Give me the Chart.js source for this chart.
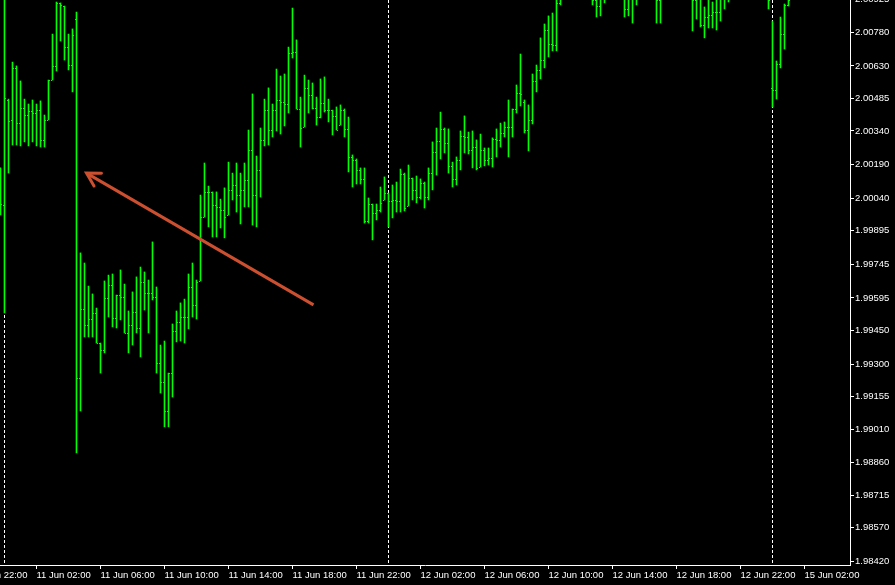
<!DOCTYPE html>
<html>
<head>
<meta charset="utf-8">
<script src="https://cdn.jsdelivr.net/npm/chart.js@4.4.1/dist/chart.umd.min.js"></script>
<style>
    html, body { margin: 0; padding: 0; background: #000; }
    canvas { display: block; }
</style>
</head>
<body>
<canvas id="priceChart" width="895" height="585"></canvas>
<script>
// M15 bars, bar index 0 = 11 Jun 00:00 (first visible bar is index -1)
var firstBar = -1;

var opens = [
    2.00143, 2.00010, 2.00478, 2.00389, 2.00621, 2.00375, 2.00442, 2.00411,
    2.00429, 2.00420, 2.00433, 2.00300, 2.00389, 2.00567, 2.00630, 2.00911,
    2.00897, 2.00714, 2.00634, 2.00839, 1.99238, 1.99546, 1.99474, 1.99501,
    1.99528, 1.99394, 1.99363, 1.99595, 1.99653, 1.99506, 1.99608, 1.99599,
    1.99439, 1.99474, 1.99532, 1.99461, 1.99666, 1.99617, 1.99617, 1.99599,
    1.99305, 1.99220, 1.99091, 1.99260, 1.99448, 1.99488, 1.99510, 1.99510,
    1.99644, 1.99564, 1.99671, 1.99956, 2.00068, 2.00068, 2.00010, 2.00001,
    1.99987, 1.99965, 2.00077, 2.00099, 2.00054, 2.00077, 2.00121, 2.00255,
    2.00054, 2.00166, 2.00300, 2.00433, 2.00344, 2.00433, 2.00478, 2.00469,
    2.00460, 2.00688, 2.00692, 2.00438, 2.00358, 2.00532, 2.00500, 2.00442,
    2.00402, 2.00465, 2.00433, 2.00433, 2.00407, 2.00366, 2.00433, 2.00349,
    2.00224, 2.00210, 2.00166, 2.00126, 1.99938, 2.00014, 1.99974, 1.99987,
    2.00032, 2.00063, 2.00028, 2.00032, 2.00028, 2.00148, 2.00005, 2.00130,
    2.00077, 2.00045, 2.00108, 2.00045, 2.00152, 2.00246, 2.00295, 2.00349,
    2.00286, 2.00184, 2.00126, 2.00210, 2.00317, 2.00313, 2.00255, 2.00268,
    2.00179, 2.00255, 2.00210, 2.00219, 2.00304, 2.00300, 2.00331, 2.00358,
    2.00358, 2.00438, 2.00509, 2.00470, 2.00344, 2.00389, 2.00563, 2.00612,
    2.00656, 2.00790, 2.00728, 2.00723, 2.00911, 2.00969, 2.01010, 2.01030,
    2.01000, 2.00990, 2.01040, 2.01020, 2.00980, 2.00924, 2.00897, 2.00946,
    2.00991, 2.01020, 2.01050, 2.01000, 2.00980, 2.00884, 2.00933, 2.00969,
    2.01000, 2.01050, 2.01070, 2.01020, 2.00970, 2.00924, 2.00950, 2.01010,
    2.01060, 2.01090, 2.01070, 2.01040, 2.01010, 2.00980, 2.00924, 2.00946,
    2.00812, 2.00848, 2.00857, 2.00870, 2.00870, 2.00946, 2.00969, 2.01036,
    2.01090, 2.01110, 2.01080, 2.01060, 2.01030, 2.01050, 2.01010, 2.00990,
    2.00970, 2.00532, 2.00523, 2.00639, 2.00772, 2.00902
];

var highs = [
    2.00175, 2.00946, 2.00482, 2.00647, 2.00630, 2.00563, 2.00482, 2.00460,
    2.00478, 2.00460, 2.00474, 2.00411, 2.00567, 2.00772, 2.00915, 2.00911,
    2.00897, 2.00772, 2.00795, 2.00870, 1.99796, 1.99751, 1.99648, 1.99613,
    1.99550, 1.99394, 1.99671, 1.99697, 1.99702, 1.99608, 1.99720, 1.99657,
    1.99537, 1.99622, 1.99689, 1.99733, 1.99711, 1.99675, 1.99845, 1.99644,
    1.99385, 1.99403, 1.99260, 1.99479, 1.99537, 1.99573, 1.99590, 1.99702,
    1.99751, 1.99675, 2.00054, 2.00197, 2.00094, 2.00068, 2.00068, 2.00036,
    2.00086, 2.00201, 2.00152, 2.00197, 2.00152, 2.00197, 2.00344, 2.00505,
    2.00228, 2.00353, 2.00482, 2.00532, 2.00460, 2.00616, 2.00585, 2.00594,
    2.00714, 2.00888, 2.00746, 2.00491, 2.00589, 2.00567, 2.00554, 2.00491,
    2.00572, 2.00581, 2.00482, 2.00433, 2.00447, 2.00456, 2.00438, 2.00402,
    2.00233, 2.00215, 2.00175, 2.00175, 2.00041, 2.00014, 2.00014, 2.00090,
    2.00135, 2.00063, 2.00099, 2.00112, 2.00170, 2.00152, 2.00188, 2.00130,
    2.00139, 2.00126, 2.00112, 2.00175, 2.00291, 2.00353, 2.00424, 2.00353,
    2.00349, 2.00201, 2.00224, 2.00340, 2.00407, 2.00335, 2.00340, 2.00300,
    2.00326, 2.00264, 2.00264, 2.00309, 2.00349, 2.00375, 2.00380, 2.00478,
    2.00438, 2.00545, 2.00683, 2.00478, 2.00456, 2.00594, 2.00634, 2.00755,
    2.00817, 2.00853, 2.00866, 2.00946, 2.01013, 2.01040, 2.01060, 2.01080,
    2.01050, 2.01070, 2.01090, 2.01060, 2.01040, 2.01000, 2.01010, 2.01030,
    2.01060, 2.01080, 2.01070, 2.01040, 2.01020, 2.01000, 2.01010, 2.01040,
    2.01080, 2.01100, 2.01090, 2.01050, 2.01020, 2.00990, 2.01050, 2.01080,
    2.01120, 2.01140, 2.01110, 2.01080, 2.01050, 2.01020, 2.01030, 2.01010,
    2.00893, 2.00969, 2.00915, 2.00969, 2.01013, 2.01058, 2.01102, 2.01130,
    2.01150, 2.01160, 2.01120, 2.01100, 2.01090, 2.01080, 2.01050, 2.01040,
    2.01030, 2.00830, 2.00652, 2.00848, 2.00906, 2.00946
];

var lows = [
    1.99965, 1.99528, 2.00152, 2.00277, 2.00277, 2.00273, 2.00291, 2.00273,
    2.00291, 2.00273, 2.00268, 2.00268, 2.00389, 2.00567, 2.00607, 2.00741,
    2.00656, 2.00612, 2.00514, 1.98904, 1.99091, 1.99421, 1.99421, 1.99421,
    1.99394, 1.99260, 1.99350, 1.99510, 1.99466, 1.99461, 1.99497, 1.99439,
    1.99350, 1.99385, 1.99439, 1.99332, 1.99541, 1.99439, 1.99586, 1.99260,
    1.99171, 1.99020, 1.99020, 1.99153, 1.99399, 1.99403, 1.99394, 1.99457,
    1.99510, 1.99501, 1.99671, 1.99956, 1.99912, 1.99867, 1.99867, 1.99907,
    1.99863, 1.99965, 2.00032, 1.99978, 1.99925, 2.00001, 2.00001, 1.99920,
    1.99912, 2.00045, 2.00273, 2.00277, 2.00313, 2.00340, 2.00326, 2.00362,
    2.00420, 2.00665, 2.00438, 2.00268, 2.00358, 2.00420, 2.00438, 2.00366,
    2.00398, 2.00424, 2.00380, 2.00322, 2.00344, 2.00366, 2.00313, 2.00157,
    2.00090, 2.00103, 2.00103, 1.99929, 1.99929, 1.99854, 1.99943, 1.99978,
    2.00032, 1.99912, 1.99952, 1.99978, 1.99978, 1.99983, 2.00005, 2.00032,
    2.00019, 2.00036, 1.99996, 2.00032, 2.00077, 2.00143, 2.00215, 2.00242,
    2.00152, 2.00090, 2.00099, 2.00166, 2.00242, 2.00237, 2.00175, 2.00166,
    2.00179, 2.00184, 2.00188, 2.00179, 2.00224, 2.00268, 2.00313, 2.00224,
    2.00313, 2.00420, 2.00451, 2.00331, 2.00251, 2.00371, 2.00514, 2.00572,
    2.00621, 2.00670, 2.00697, 2.00697, 2.00902, 2.00950, 2.00980, 2.00990,
    2.00960, 2.00970, 2.01000, 2.00960, 2.00902, 2.00848, 2.00853, 2.00911,
    2.00960, 2.00990, 2.00970, 2.00950, 2.00848, 2.00853, 2.00821, 2.00902,
    2.00980, 2.01010, 2.00990, 2.00950, 2.00821, 2.00821, 2.00950, 2.00990,
    2.01030, 2.01050, 2.01020, 2.00990, 2.00960, 2.00786, 2.00839, 2.00804,
    2.00755, 2.00799, 2.00799, 2.00790, 2.00830, 2.00884, 2.00915, 2.01010,
    2.01050, 2.01060, 2.01020, 2.01000, 2.00990, 2.00980, 2.00960, 2.00950,
    2.00884, 2.00447, 2.00482, 2.00621, 2.00705, 2.00897
];

var closes = [
    2.00014, 2.00487, 2.00384, 2.00621, 2.00375, 2.00442, 2.00411, 2.00429,
    2.00420, 2.00433, 2.00300, 2.00389, 2.00567, 2.00630, 2.00911, 2.00902,
    2.00714, 2.00634, 2.00768, 1.99238, 1.99546, 1.99474, 1.99501, 1.99528,
    1.99394, 1.99363, 1.99595, 1.99653, 1.99506, 1.99608, 1.99599, 1.99439,
    1.99474, 1.99532, 1.99461, 1.99666, 1.99617, 1.99617, 1.99599, 1.99305,
    1.99220, 1.99091, 1.99260, 1.99448, 1.99488, 1.99510, 1.99510, 1.99644,
    1.99564, 1.99666, 1.99956, 2.00068, 2.00068, 2.00010, 2.00001, 1.99987,
    1.99956, 2.00077, 2.00099, 2.00054, 2.00077, 2.00121, 2.00255, 2.00054,
    2.00166, 2.00300, 2.00433, 2.00344, 2.00433, 2.00478, 2.00469, 2.00460,
    2.00688, 2.00692, 2.00438, 2.00353, 2.00532, 2.00500, 2.00442, 2.00402,
    2.00465, 2.00433, 2.00433, 2.00407, 2.00344, 2.00433, 2.00349, 2.00224,
    2.00210, 2.00166, 2.00126, 1.99938, 2.00014, 1.99974, 1.99987, 2.00019,
    2.00063, 2.00028, 2.00032, 2.00028, 2.00148, 1.99996, 2.00130, 2.00077,
    2.00045, 2.00108, 2.00045, 2.00152, 2.00246, 2.00295, 2.00349, 2.00286,
    2.00184, 2.00126, 2.00210, 2.00317, 2.00313, 2.00255, 2.00268, 2.00175,
    2.00255, 2.00210, 2.00219, 2.00304, 2.00300, 2.00331, 2.00358, 2.00358,
    2.00438, 2.00509, 2.00505, 2.00344, 2.00389, 2.00563, 2.00612, 2.00656,
    2.00790, 2.00728, 2.00723, 2.00911, 2.00969, 2.01010, 2.01030, 2.01000,
    2.00990, 2.01040, 2.01020, 2.00980, 2.00924, 2.00897, 2.00946, 2.00991,
    2.01020, 2.01050, 2.01000, 2.00980, 2.00884, 2.00933, 2.00969, 2.01000,
    2.01050, 2.01070, 2.01020, 2.00970, 2.00924, 2.00950, 2.01010, 2.01060,
    2.01090, 2.01070, 2.01040, 2.01010, 2.00980, 2.00924, 2.00946, 2.00812,
    2.00848, 2.00857, 2.00870, 2.00870, 2.00946, 2.00969, 2.01036, 2.01090,
    2.01110, 2.01080, 2.01060, 2.01030, 2.01050, 2.01010, 2.00990, 2.00970,
    2.00924, 2.00523, 2.00639, 2.00772, 2.00902, 2.00924
];

var timeLabels = ['10 Jun 22:00', '11 Jun 02:00', '11 Jun 06:00', '11 Jun 10:00', '11 Jun 14:00',
    '11 Jun 18:00', '11 Jun 22:00', '12 Jun 02:00', '12 Jun 06:00', '12 Jun 10:00',
    '12 Jun 14:00', '12 Jun 18:00', '12 Jun 22:00', '15 Jun 02:00'];
var timeTickBars = [-8, 8, 24, 40, 56, 72, 88, 104, 120, 136, 152, 168, 184, 200];

var priceTicks = [1.98420, 1.98570, 1.98715, 1.98860, 1.99010, 1.99155, 1.99300, 1.99450, 1.99595,
    1.99745, 1.99895, 2.00040, 2.00190, 2.00340, 2.00485, 2.00630, 2.00780, 2.00925];

var daySeparators = [0, 96, 192];   // 11 Jun, 12 Jun, 15 Jun 00:00

// hand drawn arrow: tail -> tip
var arrowLine = [{x: 77.25, y: 1.99564}, {x: 20.5, y: 2.00152}];

var barColor = '#00ff00';
var arrowColor = '#cc5030';
var axisFont = {family: 'Liberation Sans', size: 9.5};

var barData = opens.map(function(o, i) {
    return {x: firstBar + i, y: [lows[i], highs[i]]};
});

var separatorPlugin = {
    id: 'separators',
    beforeDatasetsDraw: function(chart) {
        var ctx = chart.ctx, x = chart.scales.x, a = chart.chartArea;
        ctx.save();
        ctx.strokeStyle = '#ffffff';
        ctx.lineWidth = 1;
        ctx.setLineDash([3, 2]);
        daySeparators.forEach(function(k) {
            var px = Math.floor(x.getPixelForValue(k)) + 0.5;
            ctx.beginPath();
            ctx.moveTo(px, a.top);
            ctx.lineTo(px, a.bottom);
            ctx.stroke();
        });
        ctx.restore();
    }
};

// open tick on the left, close tick on the right
var ohlcTickPlugin = {
    id: 'ohlcTicks',
    afterDatasetsDraw: function(chart) {
        var ctx = chart.ctx, x = chart.scales.x, y = chart.scales.y, a = chart.chartArea;
        ctx.save();
        ctx.beginPath();
        ctx.rect(a.left, a.top, a.right - a.left, a.bottom - a.top);
        ctx.clip();
        ctx.fillStyle = barColor;
        for (var i = 0; i < opens.length; i++) {
            var px = Math.floor(x.getPixelForValue(firstBar + i));
            ctx.fillRect(px - 1, Math.round(y.getPixelForValue(opens[i])), 1, 1);
            ctx.fillRect(px + 1, Math.round(y.getPixelForValue(closes[i])), 1, 1);
        }

        // arrow head
        var pts = chart.getDatasetMeta(1).data;
        if (pts.length == 2) {
            var tail = pts[0], tip = pts[1];
            var ang = Math.atan2(tail.y - tip.y, tail.x - tip.x);
            ctx.strokeStyle = arrowColor;
            ctx.lineWidth = 3;
            ctx.lineCap = 'round';
            ctx.beginPath();
            ctx.moveTo(tip.x + 15 * Math.cos(ang - 0.52), tip.y + 15 * Math.sin(ang - 0.52));
            ctx.lineTo(tip.x, tip.y);
            ctx.lineTo(tip.x + 15 * Math.cos(ang + 0.52), tip.y + 15 * Math.sin(ang + 0.52));
            ctx.stroke();
        }
        ctx.restore();
    }
};

var ctx = document.getElementById('priceChart').getContext('2d');
var priceChart = new Chart(ctx, {
    type: 'bar',
    data: {
        datasets: [
            {
                label: 'GBPUSD,M15',
                data: barData,
                backgroundColor: barColor,
                borderWidth: 0,
                barThickness: 1,
                order: 1
            },
            {
                type: 'line',
                label: 'arrow',
                data: arrowLine,
                borderColor: arrowColor,
                borderWidth: 3,
                pointRadius: 0,
                order: 0
            }
        ]
    },
    options: {
        responsive: false,
        animation: false,
        layout: {padding: 0},
        plugins: {
            legend: {display: false},
            tooltip: {enabled: false}
        },
        scales: {
            x: {
                type: 'linear',
                min: -1.125,
                max: 211.375,
                offset: false,
                afterBuildTicks: function(s) {
                    s.ticks = timeTickBars.map(function(v) { return {value: v}; });
                },
                afterFit: function(s) {
                    s.height = 20;
                    s.paddingLeft = 0;
                    s.paddingRight = 0;
                },
                border: {color: '#ffffff'},
                grid: {drawOnChartArea: false, color: '#ffffff', tickLength: 4, offset: false},
                ticks: {
                    color: '#ffffff',
                    font: axisFont,
                    autoSkip: false,
                    maxRotation: 0,
                    align: 'start',
                    padding: 1,
                    callback: function(value, index) { return timeLabels[index]; }
                }
            },
            y: {
                position: 'right',
                min: 1.98404,
                max: 2.00924,
                afterBuildTicks: function(s) {
                    s.ticks = priceTicks.map(function(v) { return {value: v}; });
                },
                afterFit: function(s) {
                    s.width = 45;
                    s.paddingTop = 0;
                    s.paddingBottom = 0;
                },
                border: {color: '#ffffff'},
                grid: {drawOnChartArea: false, color: '#ffffff', tickLength: 4},
                ticks: {
                    color: '#ffffff',
                    font: axisFont,
                    autoSkip: false,
                    padding: 1,
                    callback: function(value) { return value.toFixed(5); }
                }
            }
        }
    },
    plugins: [separatorPlugin, ohlcTickPlugin]
});
</script>
</body>
</html>
